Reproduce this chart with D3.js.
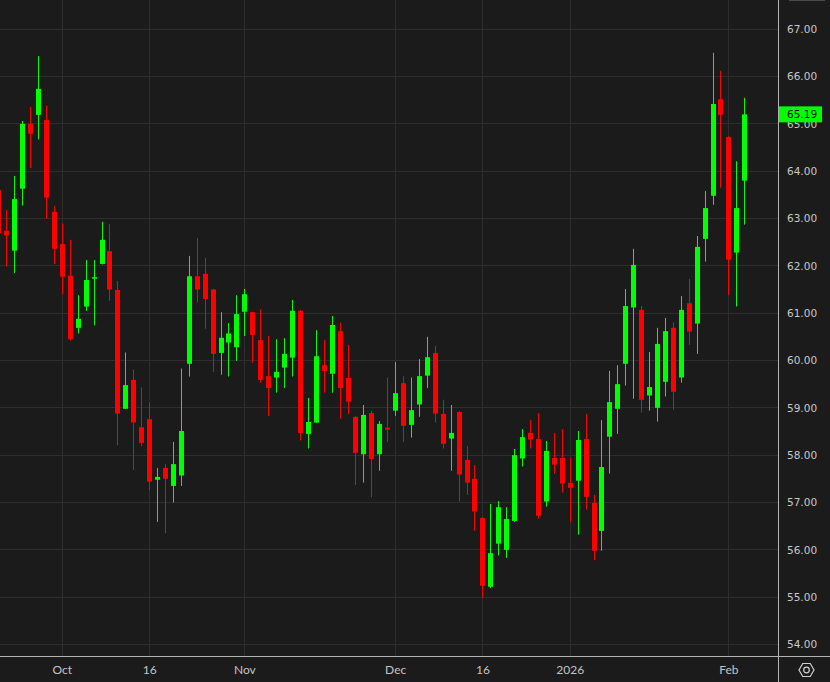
<!DOCTYPE html>
<html><head><meta charset="utf-8">
<script src="https://cdn.jsdelivr.net/npm/d3@7"></script>
<style>
html,body{margin:0;padding:0;background:#1b1b1b;}
svg{display:block;}
</style></head><body>
<svg id="chart" width="830" height="682"></svg>
<script>
const dates = [
"2025-09-19","2025-09-22","2025-09-23","2025-09-24","2025-09-25","2025-09-26","2025-09-29","2025-09-30",
"2025-10-01","2025-10-02","2025-10-03","2025-10-06","2025-10-07","2025-10-08","2025-10-09","2025-10-10",
"2025-10-13","2025-10-14","2025-10-15","2025-10-16","2025-10-17","2025-10-20","2025-10-21","2025-10-22",
"2025-10-23","2025-10-24","2025-10-27","2025-10-28","2025-10-29","2025-10-30","2025-10-31",
"2025-11-03","2025-11-04","2025-11-05","2025-11-06","2025-11-07","2025-11-10","2025-11-11","2025-11-12",
"2025-11-13","2025-11-14","2025-11-17","2025-11-18","2025-11-19","2025-11-20","2025-11-21","2025-11-24",
"2025-11-25","2025-11-26","2025-11-28",
"2025-12-01","2025-12-02","2025-12-03","2025-12-04","2025-12-05","2025-12-08","2025-12-09","2025-12-10",
"2025-12-11","2025-12-12","2025-12-15","2025-12-16","2025-12-17","2025-12-18","2025-12-19","2025-12-22",
"2025-12-23","2025-12-24","2025-12-26","2025-12-29","2025-12-30","2025-12-31",
"2026-01-02","2026-01-05","2026-01-06","2026-01-07","2026-01-08","2026-01-09","2026-01-12","2026-01-13",
"2026-01-14","2026-01-15","2026-01-16","2026-01-20","2026-01-21","2026-01-22","2026-01-23","2026-01-26",
"2026-01-27","2026-01-28","2026-01-29","2026-01-30","2026-02-02","2026-02-03","2026-02-04"];

const open = [63.59,62.73,62.31,63.62,64.99,65.18,65.07,63.13,62.45,61.78,60.68,61.13,61.72,62.03,62.30,61.48,
58.97,59.58,58.58,58.75,57.47,57.72,57.34,57.56,59.92,61.77,61.82,61.49,60.15,60.37,60.27,
61.02,61.01,60.42,59.66,59.63,59.84,60.05,61.04,58.44,58.68,59.89,59.71,60.61,59.62,58.80,58.01,58.88,58.01,58.57,
58.93,59.51,58.63,59.06,59.67,60.15,58.86,58.34,58.90,57.89,57.49,56.66,55.21,56.12,55.99,56.60,57.92,58.46,58.33,57.01,57.93,57.93,
57.40,57.45,58.33,56.98,56.39,58.38,58.97,59.92,61.11,61.06,59.25,58.99,59.54,60.68,59.63,61.20,60.77,62.56,63.47,65.51,64.71,62.27,63.79];
const high = [63.75,63.17,63.89,65.05,65.35,66.42,65.38,63.25,62.89,62.54,61.37,62.11,62.11,62.92,62.87,61.67,
60.16,59.80,59.42,59.10,57.72,57.80,58.27,59.82,62.20,62.58,62.16,61.50,61.01,60.78,61.37,
61.50,61.02,61.07,60.51,60.44,60.46,61.27,61.06,59.20,60.63,60.42,60.93,60.79,60.32,58.81,59.05,58.93,58.71,59.63,
59.96,59.66,59.63,60.02,60.49,60.30,59.16,59.05,58.92,58.18,57.78,56.68,56.96,57.02,56.89,58.12,58.54,58.73,58.88,58.29,58.46,58.54,
57.93,58.50,58.86,57.15,58.73,59.77,59.89,61.50,62.35,61.14,60.17,60.68,60.89,60.80,61.35,61.71,62.62,63.57,66.49,66.11,64.73,64.20,65.54];
const low = [62.40,61.97,61.84,63.26,64.06,64.66,62.98,62.03,61.39,60.41,60.56,61.04,60.73,62.02,61.25,58.20,
58.96,57.68,58.18,57.25,56.58,56.34,56.99,57.34,59.65,61.22,60.66,59.75,59.69,59.65,59.98,
60.51,59.94,59.52,58.82,59.31,59.41,59.65,58.30,58.13,58.67,59.31,59.31,58.76,58.86,57.36,57.41,57.10,57.66,58.27,
58.82,58.27,58.36,58.80,59.41,58.68,58.13,57.66,57.01,57.15,56.39,54.98,55.18,55.87,55.82,56.58,57.75,58.13,56.65,56.90,57.60,57.20,
56.58,56.31,56.84,55.77,55.97,57.60,58.44,59.46,59.18,58.89,58.93,58.70,59.23,58.95,59.52,60.32,60.13,62.08,63.28,63.64,61.37,61.13,62.86];
const close = [62.68,62.63,63.40,64.99,64.78,65.73,63.43,62.35,61.76,60.44,60.87,61.69,61.75,62.54,61.49,58.87,
59.47,58.68,58.25,57.43,57.53,57.49,57.80,58.50,61.77,61.49,61.29,60.13,60.47,60.56,60.97,
61.39,60.53,59.58,59.41,59.75,60.13,61.04,58.46,58.69,60.08,59.77,60.74,59.41,59.12,58.04,58.84,57.91,58.65,58.53,
59.30,58.61,58.94,59.66,60.06,58.87,58.23,58.46,57.58,57.41,56.80,55.23,55.92,56.89,56.64,57.99,58.37,58.32,56.71,58.08,57.79,57.39,
57.30,58.31,57.11,55.97,57.74,59.11,59.49,61.14,62.01,59.16,59.43,60.34,60.61,59.33,61.06,60.60,62.39,63.21,65.41,65.18,62.12,63.21,65.19];

const xTickDates = ["2025-10-01","2025-10-16","2025-11-03","2025-12-01","2025-12-16","2026-01-02","2026-02-02"];
const xTickLabels = ["Oct","16","Nov","Dec","16","2026","Feb"];
const yTicks = [54,55,56,57,58,59,60,61,62,63,64,65,66,67];
const lastPrice = 65.19;

const W = 830, H = 682;
const plotRight = 778, plotBottom = 656;
const UP = "#00ff00", DOWN = "#ff0000";

const svg = d3.select("#chart");
svg.append("rect").attr("width", W).attr("height", H).attr("fill", "#1b1b1b");

const x = d3.scalePoint().domain(dates).range([-1.63, 744.3]);
const y = d3.scaleLinear().domain([54, 67]).range([644.0, 28.7]);

svg.append("defs").append("clipPath").attr("id", "plot")
  .append("rect").attr("x", 0).attr("y", 0).attr("width", plotRight).attr("height", plotBottom);

// grid
const grid = svg.append("g");
grid.selectAll("line.h").data(yTicks).join("line")
  .attr("x1", 0).attr("x2", plotRight)
  .attr("y1", d => Math.round(y(d)) + 0.5).attr("y2", d => Math.round(y(d)) + 0.5)
  .attr("stroke", "#2e2e2e").attr("stroke-width", 1);
grid.selectAll("line.v").data(xTickDates).join("line")
  .attr("x1", d => Math.round(x(d)) + 0.5).attr("x2", d => Math.round(x(d)) + 0.5)
  .attr("y1", 0).attr("y2", plotBottom)
  .attr("stroke", "#2e2e2e").attr("stroke-width", 1);

// candles
const data = dates.map((d, i) => ({d, o: open[i], h: high[i], l: low[i], c: close[i]}));
const cg = svg.append("g").attr("clip-path", "url(#plot)");
const candle = cg.selectAll("g.c").data(data).join("g");
candle.append("line")
  .attr("x1", d => Math.round(x(d.d)) + 0.5).attr("x2", d => Math.round(x(d.d)) + 0.5)
  .attr("y1", d => y(d.h)).attr("y2", d => y(d.l))
  .attr("stroke", d => d.c >= d.o ? UP : DOWN).attr("stroke-width", 1);
candle.append("rect")
  .attr("x", d => Math.round(x(d.d)) - 2)
  .attr("width", 5)
  .attr("y", d => y(Math.max(d.o, d.c)))
  .attr("height", d => Math.max(1.5, Math.abs(y(d.o) - y(d.c))))
  .attr("fill", d => d.c >= d.o ? UP : DOWN);

// separators
svg.append("line").attr("x1", plotRight + 0.5).attr("x2", plotRight + 0.5).attr("y1", 0).attr("y2", H)
  .attr("stroke", "#b4b4b4").attr("stroke-width", 1);
svg.append("line").attr("x1", 0).attr("x2", W).attr("y1", plotBottom + 0.5).attr("y2", plotBottom + 0.5)
  .attr("stroke", "#b4b4b4").attr("stroke-width", 1);
svg.append("line").attr("x1", 789).attr("x2", 825).attr("y1", 0.5).attr("y2", 0.5)
  .attr("stroke", "#4a4a4a").attr("stroke-width", 1);

// y axis
const yAxis = d3.axisRight(y).tickValues(yTicks).tickFormat(d3.format(".2f")).tickSize(0).tickPadding(0);
const yg = svg.append("g").attr("transform", `translate(${plotRight + 9},0)`).call(yAxis);
yg.select(".domain").remove();
yg.selectAll("text").attr("fill", "#c8c8c8").attr("font-family", "DejaVu Sans, Verdana, sans-serif")
  .attr("font-size", "10.5px").attr("dy", "0.35em");

// x axis
const xAxis = d3.axisBottom(x).tickValues(xTickDates).tickFormat((d, i) => xTickLabels[i]).tickSize(0).tickPadding(0);
const xg = svg.append("g").attr("transform", `translate(0,${plotBottom + 14})`).call(xAxis);
xg.select(".domain").remove();
xg.selectAll("text").attr("fill", "#c4c4c4").attr("font-family", "Lato, sans-serif")
  .attr("font-size", "12px").attr("dy", "0.35em").attr("y", 0);

// last price tag
const ty = y(lastPrice);
svg.append("rect").attr("x", plotRight + 1).attr("y", ty - 8).attr("width", 43).attr("height", 16).attr("fill", UP);
svg.append("text").attr("x", plotRight + 9).attr("y", ty).attr("dy", "0.35em")
  .attr("font-family", "DejaVu Sans, Verdana, sans-serif").attr("font-size", "10.5px").attr("fill", "#0a0a0a")
  .text(d3.format(".2f")(lastPrice));

// settings icon
const cx = 806.5, cyy = 670, r = 7.5;
const hex = d3.range(6).map(k => {
  const a = Math.PI / 3 * k;
  return [cx + r * Math.cos(a), cyy + r * Math.sin(a)];
});
svg.append("path").attr("d", d3.line()(hex) + "Z").attr("fill", "none").attr("stroke", "#d0d0d0").attr("stroke-width", 1.2);
svg.append("circle").attr("cx", cx).attr("cy", cyy).attr("r", 2.8).attr("fill", "none").attr("stroke", "#d0d0d0").attr("stroke-width", 1.2);
</script>
</body></html>
